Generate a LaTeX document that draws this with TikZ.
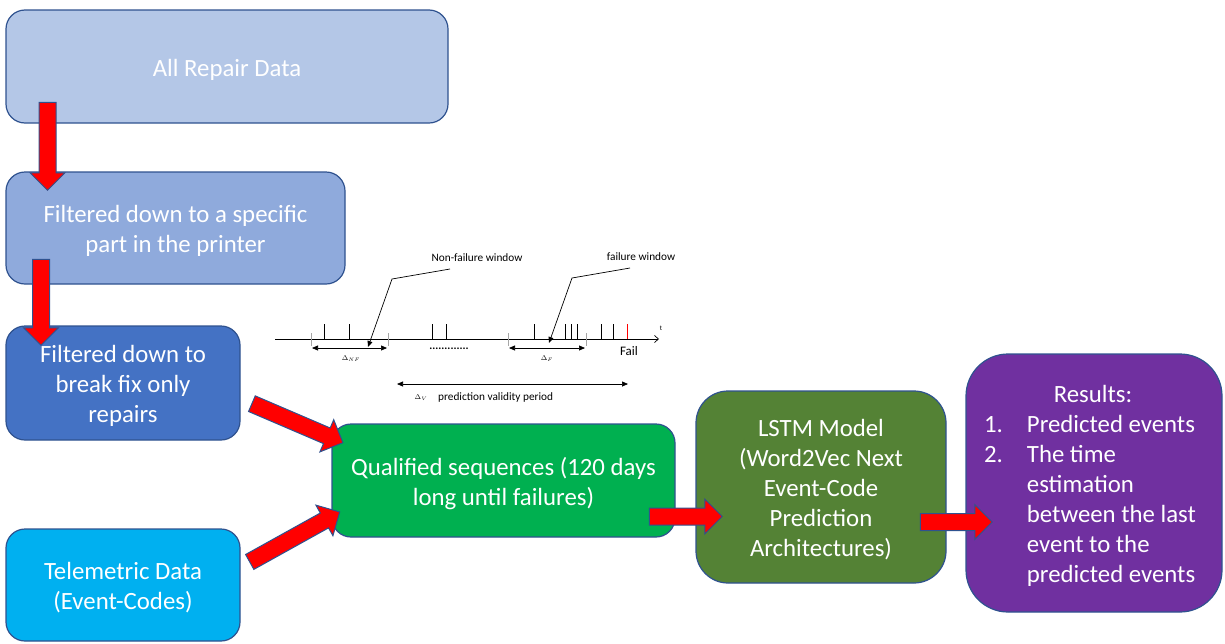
\documentclass[tikz,border=0pt]{standalone}
\usepackage{fontspec}
\setmainfont{Carlito}
\usetikzlibrary{shapes.arrows,calc,arrows.meta}
\definecolor{bordc}{HTML}{2F528F}
\definecolor{cA}{HTML}{B4C7E7}
\definecolor{cB}{HTML}{8FAADC}
\definecolor{cC}{HTML}{4472C4}
\definecolor{cD}{HTML}{00B0F0}
\definecolor{cE}{HTML}{00B050}
\definecolor{cF}{HTML}{548235}
\definecolor{cG}{HTML}{7030A0}
\newcommand\blockarrow[2]{%
  \path let \p1=(#1), \p2=(#2), \n1={atan2(\y2-\y1,\x2-\x1)}, \n2={veclen(\x2-\x1,\y2-\y1)} in
    node[barrow, minimum height=\n2, rotate=\n1] at ($(#1)!0.5!(#2)$) {};}
\tikzset{
  box/.style={draw=bordc, line width=1.2pt, inner sep=0pt},
  boxtext/.style={text=white, align=center, inner sep=0pt, font=\fontsize{24.8}{30}\selectfont},
  barrow/.style={single arrow, fill=red, draw=bordc, line width=1pt,
    inner xsep=0pt, inner ysep=8pt, single arrow head extend=9pt, outer sep=0pt},
  tl/.style={line width=0.7pt, black},
  wt/.style={line width=0.5pt, gray!70},
  ev/.style={line width=0.8pt, black},
  small/.style={font=\fontsize{11.3}{13}\selectfont, inner sep=0pt},
  tiny/.style={font=\fontsize{7}{8}\selectfont, inner sep=0pt},
  dblar/.style={tl, {Triangle[length=6pt,width=5pt]}-{Triangle[length=6pt,width=5pt]}},
}
\begin{document}
\begin{tikzpicture}[x=1pt,y=-1pt]
\useasboundingbox (0,0) rectangle (1225,643);
% boxes
\node[box, fill=cA, minimum width=442pt, minimum height=113pt, rounded corners=19pt] (b1) at (227,66.5) {};
\node[box, fill=cB, minimum width=339pt, minimum height=112pt, rounded corners=19pt] (b2) at (175.5,228) {};
\node[box, fill=cC, minimum width=234pt, minimum height=114pt, rounded corners=19pt] (b3) at (123,383) {};
\node[box, fill=cD, minimum width=234pt, minimum height=112pt, rounded corners=19pt] (b4) at (123,585) {};
\node[box, fill=cE, minimum width=343pt, minimum height=113pt, rounded corners=19pt] (b5) at (503.5,480.5) {};
\node[box, fill=cF, minimum width=250pt, minimum height=192pt, rounded corners=32pt] (b6) at (821,487) {};
\node[box, fill=cG, minimum width=256pt, minimum height=258pt, rounded corners=42pt] (b7) at (1094,483) {};
\node[boxtext] (t1) at ([yshift=-3pt]b1.center) {All Repair Data};
\node[boxtext] (t2) at ([yshift=-3pt]b2.center) {Filtered down to a specific\\part in the printer};
\node[boxtext] (t3) at ([yshift=-3pt]b3.center) {Filtered down to\\break fix only\\repairs};
\node[boxtext] (t4) at ([yshift=-3pt]b4.center) {Telemetric Data\\(Event-Codes)};
\node[boxtext] (t5) at ([yshift=-3pt]b5.center) {Qualified sequences (120 days\\long until failures)};
\node[boxtext] (t6) at ([yshift=-3pt]b6.center) {LSTM Model\\(Word2Vec Next\\Event-Code\\Prediction\\Architectures)};
\node[boxtext] (t7) at ([xshift=-4pt,yshift=-3pt]b7.center) {%
  \begin{tabular}{@{}r@{\hspace{24pt}}l@{}}
  \multicolumn{2}{c}{\hspace{6pt}Results:}\\
  1. & Predicted events\\
  2. & The time\\
     & estimation\\
     & between the last\\
     & event to the\\
     & predicted events
  \end{tabular}};
% arrow endpoints
\coordinate (a1s) at (47.5,98);  \coordinate (a1e) at (47.5,186);
\coordinate (a2s) at (41,255);   \coordinate (a2e) at (41,341);
\coordinate (a3s) at (248,402);  \coordinate (a3e) at (339,441);
\coordinate (a4s) at (246,564);  \coordinate (a4e) at (336,514);
\coordinate (a5s) at (645,516.5); \coordinate (a5e) at (718,516.5);
\coordinate (a6s) at (916,522);  \coordinate (a6e) at (988,522);
\blockarrow{a1s}{a1e}
\blockarrow{a2s}{a2e}
\blockarrow{a3s}{a3e}
\blockarrow{a4s}{a4e}
\blockarrow{a5s}{a5e}
\blockarrow{a6s}{a6e}
% timeline
\coordinate (ax0) at (275,339); \coordinate (ax1) at (659,339);
\draw[tl, -{Straight Barb[length=4pt,width=7pt]}] (ax0) -- (ax1);
\node[tiny] (tlab) at (661,328) {t};
\foreach \x in {311,388,508,586} \draw[wt] (\x,333) -- (\x,346);
\foreach \x in {324,349,432,446,534,565,571,577,601,613} \draw[ev] (\x,324) -- (\x,339);
\draw[line width=0.8pt, red] (627,324) -- (627,339);
\coordinate (w1a) at (312,348); \coordinate (w1b) at (387,348);
\coordinate (w2a) at (509,348); \coordinate (w2b) at (585,348);
\draw[dblar] (w1a) -- (w1b);
\draw[dblar] (w2a) -- (w2b);
\node[tiny] (dnf) at (351,359) {$\Delta_{\scriptscriptstyle NF}$};
\node[tiny] (df) at (547,359) {$\Delta_{\scriptscriptstyle F}$};
\node[small] (dots) at (449,349) {\textbf{.............}};
\node[small, font=\fontsize{13}{15}\selectfont] (fail) at (629,351) {Fail};
\coordinate (pa) at (397,384); \coordinate (pb) at (628,384);
\draw[dblar] (pa) -- (pb);
\node[tiny] (dv) at (421,398) {$\Delta_{\scriptscriptstyle V}$};
\node[small, anchor=west] (pvp) at (438,397) {prediction validity period};
% callouts
\node[small] (nfw) at (477,258) {Non-failure window};
\node[small] (fw) at (641,257) {failure window};
\coordinate (c1a) at (450,269); \coordinate (c1b) at (392,279); \coordinate (c1c) at (368,347);
\coordinate (c2a) at (630,268); \coordinate (c2b) at (572,278); \coordinate (c2c) at (549,343);
\draw[tl, -{Triangle[length=6pt,width=5pt]}] (c1a) -- (c1b) -- (c1c);
\draw[tl, -{Triangle[length=6pt,width=5pt]}] (c2a) -- (c2b) -- (c2c);
\end{tikzpicture}
\end{document}
